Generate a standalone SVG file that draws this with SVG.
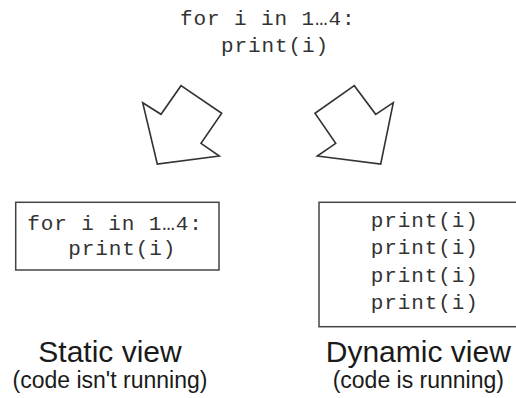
<svg xmlns="http://www.w3.org/2000/svg" width="516" height="398" viewBox="0 0 516 398">
  <style>
    .code { font-family: "Liberation Mono", "Courier New", monospace; font-size: 21px; letter-spacing: 0.9px; fill: #333; }
    .title { font-family: "Liberation Sans", Arial, sans-serif; font-size: 30px; fill: #1a1a1a; text-anchor: middle; }
    .sub { font-family: "Liberation Sans", Arial, sans-serif; font-size: 23px; fill: #1a1a1a; text-anchor: middle; }
    .box { fill: #fff; stroke: #444; stroke-width: 1.5; }
    .arrow { fill: #fff; stroke: #333; stroke-width: 1.6; stroke-linejoin: miter; }
  </style>
  <rect width="516" height="398" fill="#fff"/>

  <!-- source program -->
  <g id="source">
    <text class="code" x="180" y="25">for i in 1…4:</text>
    <text class="code" x="221" y="52">print(i)</text>
  </g>

  <!-- block arrows leading to each view -->
  <g id="connectors">
    <polygon class="arrow" points="142.7,102.7 161,114.3 181,85.7 221.7,113.3 201,143.3 219.3,156 157.3,164"/>
    <polygon class="arrow" points="393.3,102.7 375.7,114.3 354.3,85.7 315,113.3 335.7,143.3 317.3,156 380.7,164"/>
  </g>

  <!-- static view -->
  <g id="static-view">
    <rect class="box" x="15.7" y="202.3" width="203.3" height="67.7"/>
    <text class="code" x="27.3" y="230">for i in 1…4:</text>
    <text class="code" x="68.3" y="255">print(i)</text>
    <text class="title" x="110" y="362">Static view</text>
    <text class="sub" x="110" y="388">(code isn't running)</text>
  </g>

  <!-- dynamic view -->
  <g id="dynamic-view">
    <rect class="box" x="319" y="202.3" width="215" height="124.4"/>
    <text class="code" x="370.7" y="227">print(i)</text>
    <text class="code" x="370.7" y="254.3">print(i)</text>
    <text class="code" x="370.7" y="281.7">print(i)</text>
    <text class="code" x="370.7" y="308.5">print(i)</text>
    <text class="title" x="418.3" y="362">Dynamic view</text>
    <text class="sub" x="418.3" y="388">(code is running)</text>
  </g>
</svg>
